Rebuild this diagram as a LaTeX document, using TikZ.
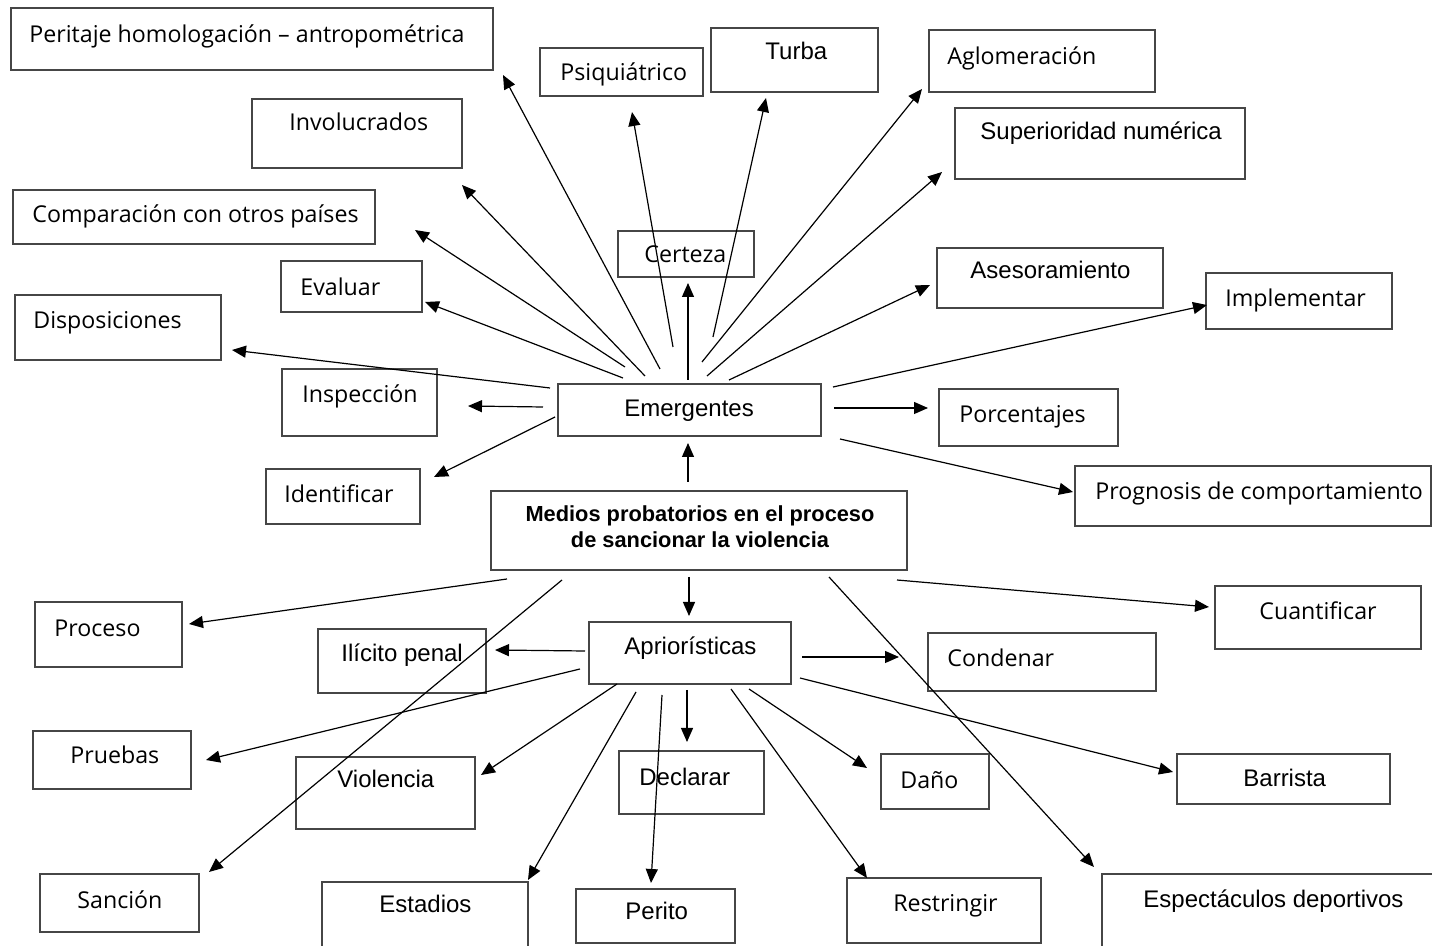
\documentclass[tikz,border=0pt]{standalone}
\usepackage{fontspec}
\newfontfamily\osfam{Open Sans}
\newfontfamily\arfam{Liberation Sans}
\newcommand\segf{\osfam\fontsize{11.6pt}{14pt}\selectfont}
\newcommand\arif{\arfam\fontsize{12pt}{14pt}\selectfont}
\newcommand\boldf{\arfam\bfseries\fontsize{10.9pt}{13pt}\selectfont}
\usetikzlibrary{arrows.meta,fit}
\definecolor{boxgray}{RGB}{70,70,70}
\begin{document}
\begin{tikzpicture}[x=0.5pt,y=-0.5pt,
  box/.style={draw=boxgray, line width=0.7pt, inner sep=0pt, rectangle},
  txt/.style={inner sep=0pt, anchor=base west, text=black},
  ctxt/.style={inner sep=0pt, anchor=base, text=black},
  arr/.style={draw=black, line width=0.6pt, -{Triangle[length=7pt,width=6pt]}},
]
\fill[white] (0,0) rectangle (1432,946);
\useasboundingbox (0,0) rectangle (1432,946);

% ---------- boxes ----------
\node[box, fit={(11,8) (493,70)}] (peri) {};
\node[box, fit={(540,48) (703,96)}] (psiq) {};
\node[box, fit={(711,28) (878,92)}] (turb) {};
\node[box, fit={(929,30) (1155,92)}] (aglo) {};
\node[box, fit={(252,99) (462,168)}] (invo) {};
\node[box, fit={(955,108) (1245,179)}] (supe) {};
\node[box, fit={(13,190) (375,244)}] (comp) {};
\node[box, fit={(618,231) (754,277)}] (cert) {};
\node[box, fit={(281,261) (422,312)}] (eval) {};
\node[box, fit={(937,248) (1163,308)}] (ases) {};
\node[box, fit={(1206,273) (1392,329)}] (impl) {};
\node[box, fit={(15,295) (221,360)}] (disp) {};
\node[box, fit={(282,369) (437,436)}] (insp) {};
\node[box, fit={(558,384) (821,436)}] (emer) {};
\node[box, fit={(939,389) (1118,446)}] (porc) {};
\node[box, fit={(266,469) (420,524)}] (iden) {};
\node[box, fit={(1075,466) (1431,526)}] (prog) {};
\node[box, fit={(491,491) (907,570)}] (medi) {};
\node[box, fit={(35,602) (182,667)}] (proc) {};
\node[box, fit={(1215,586) (1421,649)}] (cuan) {};
\node[box, fit={(318,629) (486,693)}] (ilic) {};
\node[box, fit={(589,622) (791,684)}] (apri) {};
\node[box, fit={(928,633) (1156,691)}] (cond) {};
\node[box, fit={(33,731) (191,789)}] (prue) {};
\node[box, fit={(296,757) (475,829)}] (viol) {};
\node[box, fit={(619,751) (764,814)}] (decl) {};
\node[box, fit={(881,754) (989,809)}] (dano) {};
\node[box, fit={(1177,754) (1390,804)}] (barr) {};
\node[box, fit={(40,874) (199,932)}] (sanc) {};
\node[box, fit={(322,882) (528,960)}] (esta) {};
\node[box, fit={(576,889) (735,943)}] (peto) {};
\node[box, fit={(847,878) (1041,943)}] (rest) {};
\node[box, fit={(1102,874) (1445,960)}] (espe) {};

% ---------- texts ----------
\node[txt, font=\segf] (peri-t) at (29,43) {Peritaje homologación – antropométrica};
\node[txt, font=\segf] (psiq-t) at (560,81) {Psiquiátrico};
\node[txt, font=\arif] (turb-t) at (765,60) {Turba};
\node[txt, font=\segf] (aglo-t) at (947,65) {Aglomeración};
\node[txt, font=\segf] (invo-t) at (289,131) {Involucrados};
\node[txt, font=\arif] (supe-t) at (980,140) {Superioridad numérica};
\node[txt, font=\segf] (comp-t) at (32,223) {Comparación con otros países};
\node[txt, font=\segf] (cert-t) at (644,263) {Certeza};
\node[txt, font=\segf] (eval-t) at (300,296) {Evaluar};
\node[txt, font=\arif] (ases-t) at (970,279) {Asesoramiento};
\node[txt, font=\segf] (impl-t) at (1225,307) {Implementar};
\node[txt, font=\segf] (disp-t) at (33,329) {Disposiciones};
\node[txt, font=\segf] (insp-t) at (302,403) {Inspección};
\node[txt, font=\arif] (emer-t) at (624,417) {Emergentes};
\node[txt, font=\segf] (porc-t) at (959,423) {Porcentajes};
\node[txt, font=\segf] (iden-t) at (284,503) {Identificar};
\node[txt, font=\segf] (prog-t) at (1095,500) {Prognosis de comportamiento};
\node[ctxt, font=\boldf] (medi-t1) at (700,522) {Medios probatorios en el proceso};
\node[ctxt, font=\boldf] (medi-t2) at (700,548) {de sancionar la violencia};
\node[txt, font=\segf] (proc-t) at (54,637) {Proceso};
\node[txt, font=\segf] (cuan-t) at (1259,620) {Cuantificar};
\node[txt, font=\arif] (ilic-t) at (341,662) {Ilícito penal};
\node[txt, font=\arif] (apri-t) at (624,655) {Apriorísticas};
\node[txt, font=\segf] (cond-t) at (947,667) {Condenar};
\node[txt, font=\segf] (prue-t) at (70,764) {Pruebas};
\node[txt, font=\arif] (viol-t) at (337,788) {Violencia};
\node[txt, font=\arif] (decl-t) at (639,786) {Declarar};
\node[txt, font=\segf] (dano-t) at (900,789) {Daño};
\node[txt, font=\arif] (barr-t) at (1243,787) {Barrista};
\node[txt, font=\segf] (sanc-t) at (77,909) {Sanción};
\node[txt, font=\arif] (esta-t) at (379,913) {Estadios};
\node[txt, font=\arif] (peto-t) at (625,920) {Perito};
\node[txt, font=\segf] (rest-t) at (893,912) {Restringir};
\node[txt, font=\arif] (espe-t) at (1143,907) {Espectáculos deportivos};

% ---------- connector end points ----------
% from Emergentes
\coordinate (e-peri) at (660,369);  \coordinate (peri-in) at (503,75);
\coordinate (e-psiq) at (673,347);  \coordinate (psiq-in) at (632,112);
\coordinate (e-invo) at (645,376);  \coordinate (invo-in) at (462,185);
\coordinate (e-comp) at (625,367);  \coordinate (comp-in) at (415,230);
\coordinate (e-eval) at (623,378);  \coordinate (eval-in) at (425,302);
\coordinate (e-cert) at (688,380);  \coordinate (cert-in) at (688,283);
\coordinate (e-turb) at (713,337);  \coordinate (turb-in) at (766,98);
\coordinate (e-aglo) at (702,362);  \coordinate (aglo-in) at (922,89);
\coordinate (e-supe) at (707,376);  \coordinate (supe-in) at (942,172);
\coordinate (e-ases) at (729,380);  \coordinate (ases-in) at (930,285);
\coordinate (e-impl) at (833,387);  \coordinate (impl-in) at (1207,305);
\coordinate (e-porc) at (834,408);  \coordinate (porc-in) at (928,408);
\coordinate (e-prog) at (840,439);  \coordinate (prog-in) at (1073,492);
\coordinate (e-disp) at (550,388);  \coordinate (disp-in) at (232,350);
\coordinate (e-insp) at (543,407);  \coordinate (insp-in) at (468,406);
\coordinate (e-iden) at (555,417);  \coordinate (iden-in) at (434,477);
% from Medios
\coordinate (m-emer) at (688,482);  \coordinate (emer-in) at (688,443);
\coordinate (m-proc) at (507,579);  \coordinate (proc-in) at (189,624);
\coordinate (m-sanc) at (562,580);  \coordinate (sanc-in) at (209,872);
\coordinate (m-apri) at (689,577);  \coordinate (apri-in) at (689,616);
\coordinate (m-cuan) at (897,580);  \coordinate (cuan-in) at (1209,607);
\coordinate (m-espe) at (829,577);  \coordinate (espe-in) at (1094,867);
% from Aprioristicas
\coordinate (a-ilic) at (585,651);  \coordinate (ilic-in) at (495,650);
\coordinate (a-cond) at (802,657);  \coordinate (cond-in) at (899,657);
\coordinate (a-prue) at (580,669);  \coordinate (prue-in) at (206,760);
\coordinate (a-viol) at (617,684);  \coordinate (viol-in) at (481,775);
\coordinate (a-decl) at (687,690);  \coordinate (decl-in) at (687,742);
\coordinate (a-esta) at (636,692);  \coordinate (esta-in) at (528,880);
\coordinate (a-peto) at (662,695);  \coordinate (peto-in) at (651,883);
\coordinate (a-rest) at (731,689);  \coordinate (rest-in) at (867,878);
\coordinate (a-dano) at (749,689);  \coordinate (dano-in) at (867,768);
\coordinate (a-barr) at (800,678);  \coordinate (barr-in) at (1173,772);

% ---------- connectors ----------
\foreach \s/\t in {e-peri/peri-in, e-psiq/psiq-in, e-invo/invo-in, e-comp/comp-in,
  e-eval/eval-in, e-cert/cert-in, e-turb/turb-in, e-aglo/aglo-in, e-supe/supe-in,
  e-ases/ases-in, e-impl/impl-in, e-porc/porc-in, e-prog/prog-in, e-disp/disp-in,
  e-insp/insp-in, e-iden/iden-in,
  m-emer/emer-in, m-proc/proc-in, m-sanc/sanc-in, m-apri/apri-in, m-cuan/cuan-in,
  m-espe/espe-in,
  a-ilic/ilic-in, a-cond/cond-in, a-prue/prue-in, a-viol/viol-in, a-decl/decl-in,
  a-esta/esta-in, a-peto/peto-in, a-rest/rest-in, a-dano/dano-in, a-barr/barr-in}
  \draw[arr] (\s) -- (\t);
\end{tikzpicture}
\end{document}
